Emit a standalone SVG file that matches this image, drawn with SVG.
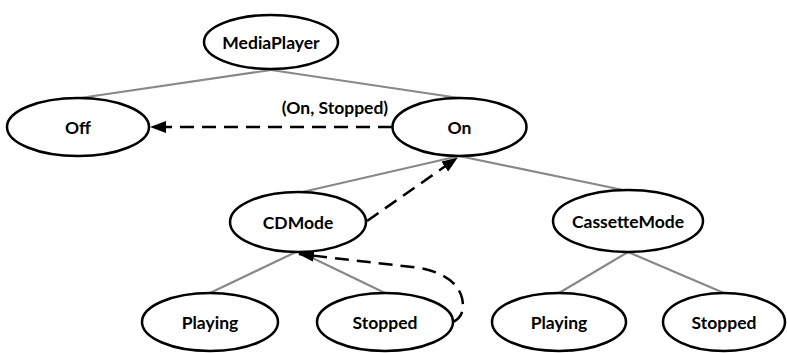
<svg xmlns="http://www.w3.org/2000/svg" width="787" height="353" viewBox="0 0 787 353">
<style>
.n ellipse{fill:#fff;stroke:#000;stroke-width:2.5}
.n text{font-family:Lato,"Liberation Sans",sans-serif;font-weight:bold;font-size:17.5px;text-anchor:middle;dominant-baseline:central;fill:#000}
.t{stroke:#888;stroke-width:2.2;fill:none}
.d{stroke:#000;stroke-width:2.5;fill:none;stroke-dasharray:14 8}
.lbl{font-family:Lato,"Liberation Sans",sans-serif;font-weight:bold;font-size:17.5px;text-anchor:middle;fill:#000}
</style>
<defs>
<marker id="ah" markerWidth="16" markerHeight="12" refX="15" refY="6" orient="auto" markerUnits="userSpaceOnUse">
<path d="M0,0 L16,6 L0,12 z" fill="#000"/>
</marker>
</defs>
<g id="connectors">
<line class="t" x1="271" y1="70" x2="80" y2="98"/>
<line class="t" x1="271" y1="70" x2="459" y2="98"/>
<line class="t" x1="459" y1="156" x2="298" y2="193"/>
<line class="t" x1="459" y1="156" x2="628" y2="191"/>
<line class="t" x1="298" y1="251" x2="210" y2="293"/>
<line class="t" x1="298" y1="251" x2="385" y2="293"/>
<line class="t" x1="628" y1="252" x2="559" y2="293"/>
<line class="t" x1="628" y1="252" x2="724" y2="293"/>
<path class="d" d="M392,127 L151,127" marker-end="url(#ah)"/>
<path class="d" d="M367,221 L457,158" marker-end="url(#ah)"/>
<path class="d" d="M453,322 Q466,316 462,298 Q456,275 420,268 L299,254" marker-end="url(#ah)"/>
<text class="lbl" x="335" y="114">(On, Stopped)</text>
</g>
<g id="MediaPlayer" class="n"><ellipse cx="271" cy="42" rx="67" ry="27"/><text x="271" y="42">MediaPlayer</text></g>
<g id="Off" class="n"><ellipse cx="78" cy="127" rx="71" ry="29"/><text x="78" y="127">Off</text></g>
<g id="On" class="n"><ellipse cx="459.5" cy="127" rx="67" ry="29"/><text x="459.5" y="127">On</text></g>
<g id="CDMode" class="n"><ellipse cx="298" cy="222" rx="68" ry="30"/><text x="298" y="222">CDMode</text></g>
<g id="CassetteMode" class="n"><ellipse cx="628" cy="221" rx="75" ry="31"/><text x="628" y="221">CassetteMode</text></g>
<g id="CDPlaying" class="n"><ellipse cx="210" cy="322" rx="68" ry="29"/><text x="210" y="322">Playing</text></g>
<g id="CDStopped" class="n"><ellipse cx="385" cy="322" rx="68" ry="29"/><text x="385" y="322">Stopped</text></g>
<g id="CassettePlaying" class="n"><ellipse cx="559" cy="322" rx="67" ry="29"/><text x="559" y="322">Playing</text></g>
<g id="CassetteStopped" class="n"><ellipse cx="724" cy="322" rx="61" ry="29"/><text x="724" y="322">Stopped</text></g>
</svg>
